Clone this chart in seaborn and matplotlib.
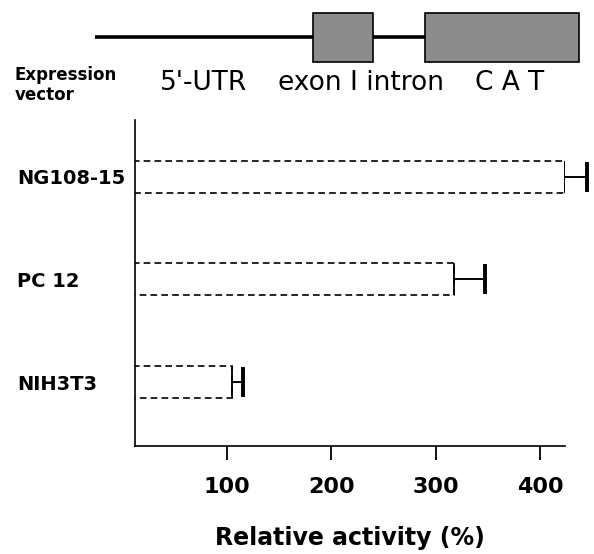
import pandas as pd
import matplotlib
matplotlib.use("Agg")
import matplotlib.pyplot as plt
from matplotlib.patches import Rectangle
import seaborn as sns

# ---- dati ----
cells = ["NG108-15", "PC 12", "NIH3T3"]
activity = [424, 318, 105]     # attivita' relativa (%)
errors = [21, 29, 10]          # barra d'errore (solo verso destra)
xticks = [100, 200, 300, 400]

df = pd.DataFrame({"cell": cells, "activity": activity, "err": errors})

sns.set_theme(style="white")
plt.rcParams["font.family"] = ["DejaVu Sans"]
plt.rcParams["text.color"] = "black"
plt.rcParams["axes.labelcolor"] = "black"
plt.rcParams["xtick.color"] = "black"
plt.rcParams["ytick.color"] = "black"

W, H = 594, 554
fig = plt.figure(figsize=(W / 100, H / 100), dpi=100)

# ---- grafico a barre ----
ax = fig.add_axes([135 / W, 1 - 446 / H, 430 / W, 326 / H])
bar_w = 0.31
sns.barplot(data=df, x="activity", y="cell", orient="h", fill=False, color="black",
            linestyle=(0, (4, 2.5)), linewidth=1.2, width=bar_w, errorbar=None, ax=ax)

# lato destro pieno + errore unilaterale
ax.vlines(df["activity"], [i - bar_w / 2 for i in range(len(df))],
          [i + bar_w / 2 for i in range(len(df))], color="black", lw=1.3)
eb = ax.errorbar(df["activity"], range(len(df)), xerr=[[0] * len(df), df["err"]],
                 fmt="none", ecolor="black", elinewidth=1.4, capsize=11, capthick=2.8)
eb.lines[1][0].set_visible(False)   # niente cappuccio a sinistra
for art in list(eb.lines[1]) + list(eb.lines[2]):
    art.set_clip_on(False)

ax.set_xlim(12, 424)
ax.set_ylim(2.62, -0.55)
sns.despine(ax=ax)
for s in ["left", "bottom"]:
    ax.spines[s].set_color("black")
    ax.spines[s].set_linewidth(1.2)

ax.set_xticks(xticks)
ax.set_xticklabels([str(t) for t in xticks], fontsize=16, fontweight="bold")
ax.tick_params(axis="x", direction="out", length=10, width=1.3, color="black", pad=12, bottom=True)
ax.tick_params(axis="y", length=0, pad=85)
ax.set_yticks(range(len(cells)))
ax.set_yticklabels(cells, fontsize=14, fontweight="bold", ha="left")
ax.set_ylabel("")
ax.set_xlabel("Relative activity (%)", fontsize=17, fontweight="bold", labelpad=21)

# ---- schema del costrutto in alto (coordinate in pixel) ----
top = fig.add_axes([0, 0, 1, 1], zorder=-1)
top.set_xlim(0, W)
top.set_ylim(H, 0)
top.axis("off")
top.plot([95, 313], [37, 37], color="black", lw=2.6, solid_capstyle="butt")
top.plot([373, 425], [37, 37], color="black", lw=2.6, solid_capstyle="butt")
top.add_patch(Rectangle((313, 13), 60, 49, facecolor="#8c8c8c", edgecolor="black", lw=1.2))
top.add_patch(Rectangle((425, 13), 154, 49, facecolor="#8c8c8c", edgecolor="black", lw=1.2))

top.text(15, 75, "Expression", fontsize=12, fontweight="bold", va="center", ha="left")
top.text(15, 95, "vector", fontsize=12, fontweight="bold", va="center", ha="left")
top.text(160, 83, "5'-UTR", fontsize=19, va="center", ha="left")
top.text(278, 83, "exon I intron", fontsize=19, va="center", ha="left")
top.text(510, 83, "C A T", fontsize=19, va="center", ha="center")

fig.savefig("out.png", dpi=100)
